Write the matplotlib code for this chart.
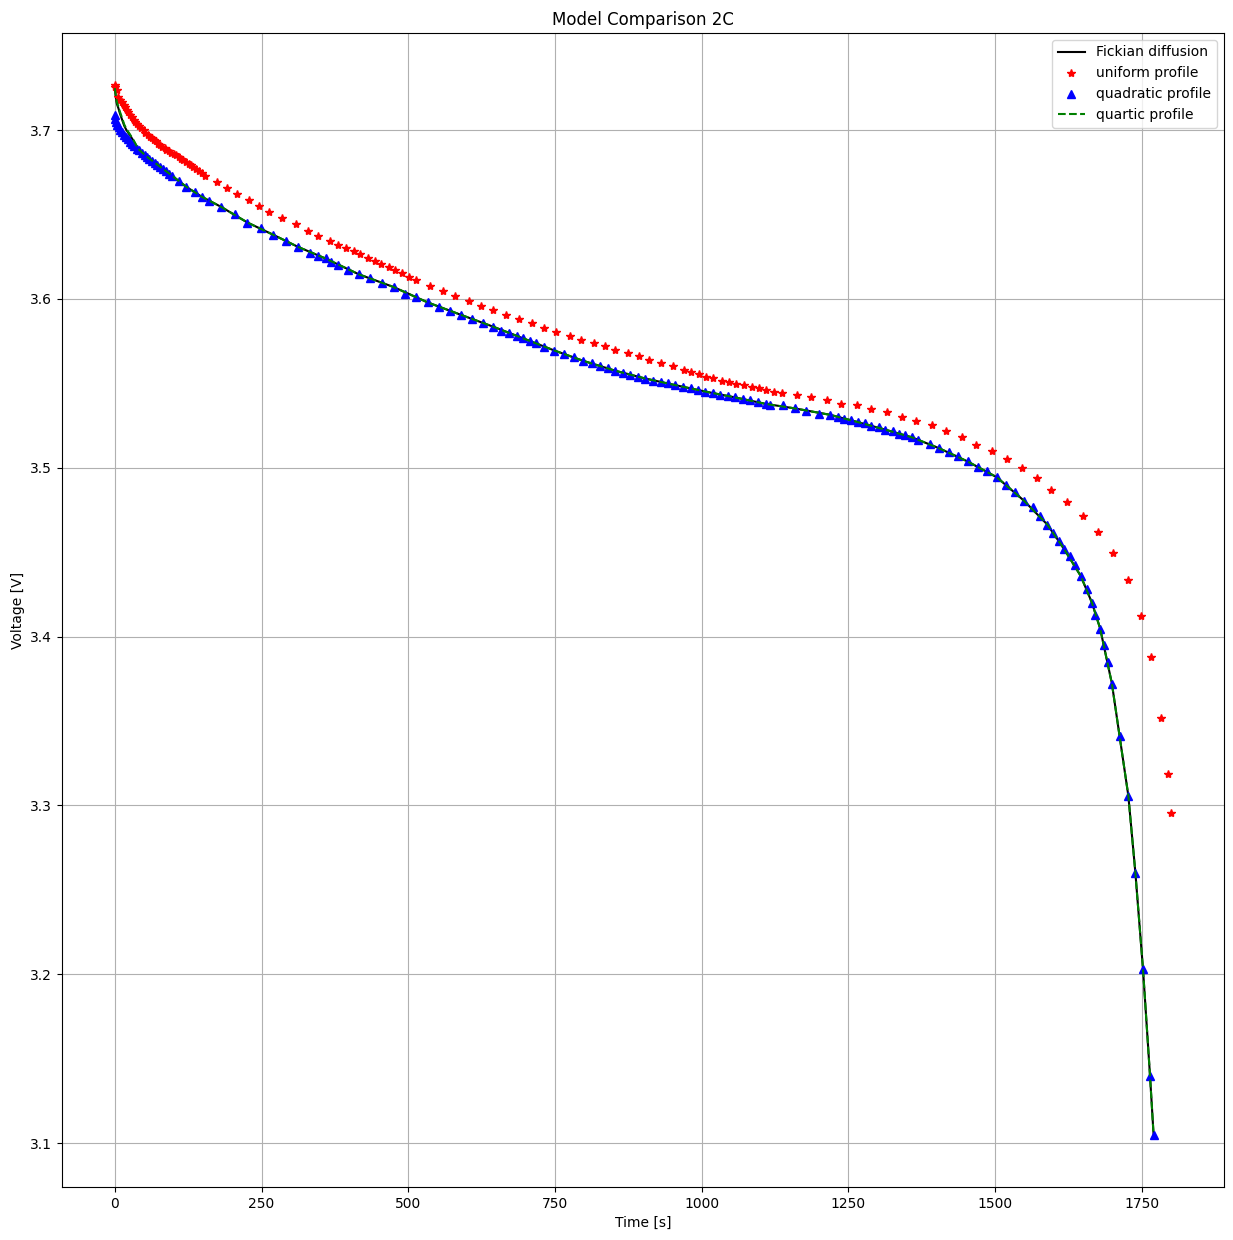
import numpy as np
import matplotlib
matplotlib.use("Agg")
import matplotlib.pyplot as plt

# uniform profile (red stars)
t_uni = [0, 1, 3, 6, 9, 12, 15, 17.6, 20, 23, 26, 29, 32, 35, 38, 41, 45, 49, 52, 56,
         60, 63, 67, 70, 74, 77, 81, 85, 88, 92, 96, 100, 105, 109, 113, 117, 121, 126,
         130, 134, 138, 143, 148, 154, 174, 191, 208, 228, 245, 263, 285, 308, 329, 347,
         367, 380, 394, 407, 418, 432, 443, 454, 467, 478, 489, 502, 513, 537, 559, 580,
         603, 624, 645, 667, 688, 710, 732, 752, 775, 795, 816, 835, 853, 874, 893, 911,
         931, 951, 969, 982, 995, 1008, 1020, 1034, 1046, 1059, 1072, 1085, 1097, 1110,
         1123, 1137, 1162, 1187, 1213, 1238, 1264, 1289, 1315, 1341, 1366, 1392, 1417,
         1443, 1468, 1494, 1520, 1545, 1571, 1596, 1622, 1649, 1675, 1701, 1727, 1748,
         1765, 1782, 1795, 1800]
v_uni = [3.7264, 3.7252, 3.7235, 3.7195, 3.7180, 3.7166, 3.7150, 3.7136, 3.7120, 3.7106,
         3.7090, 3.7077, 3.7060, 3.7047, 3.7035, 3.7022, 3.7010, 3.6998, 3.6985, 3.6972,
         3.6960, 3.6953, 3.6940, 3.6933, 3.6920, 3.6913, 3.6900, 3.6894, 3.6880, 3.6874,
         3.6866, 3.6860, 3.6850, 3.6840, 3.6830, 3.6820, 3.6810, 3.6800, 3.6790, 3.6781,
         3.6770, 3.6760, 3.6745, 3.6728, 3.6690, 3.6657, 3.6620, 3.6588, 3.6550, 3.6515,
         3.6480, 3.6444, 3.6400, 3.6373, 3.6342, 3.6318, 3.6300, 3.6283, 3.6263, 3.6240,
         3.6224, 3.6206, 3.6190, 3.6170, 3.6155, 3.6131, 3.6112, 3.6078, 3.6047, 3.6019,
         3.5989, 3.5960, 3.5934, 3.5905, 3.5881, 3.5859, 3.5828, 3.5806, 3.5780, 3.5757,
         3.5737, 3.5721, 3.5699, 3.5680, 3.5662, 3.5640, 3.5623, 3.5600, 3.5581, 3.5564,
         3.5554, 3.5540, 3.5530, 3.5516, 3.5506, 3.5494, 3.5487, 3.5477, 3.5471, 3.5459,
         3.5451, 3.5444, 3.5428, 3.5416, 3.5398, 3.5380, 3.5369, 3.5345, 3.5327, 3.5302,
         3.5274, 3.5250, 3.5215, 3.5179, 3.5136, 3.5097, 3.5050, 3.4998, 3.4939, 3.4870,
         3.4795, 3.4712, 3.4618, 3.4493, 3.4332, 3.4120, 3.3876, 3.3520, 3.3187, 3.2954]

# quadratic profile (blue triangles)
t_quad = [0, 0.5, 2, 4, 6.3, 9, 12, 15, 18.8, 22, 26, 30, 33.5, 37, 41.5, 46, 50.6, 54,
          58.5, 63, 67.7, 72, 77.3, 82, 87, 92, 97, 108.6, 121, 136, 148, 160, 181, 204,
          226, 249, 269.5, 292, 312, 333, 346, 359, 369, 380, 397, 416, 435, 456, 475,
          494, 513, 533, 553, 571, 590, 608, 627, 644, 658, 672, 685, 695, 707, 718, 731,
          749, 765, 782, 798, 813, 827, 841, 853, 866, 878, 891, 904, 917, 930, 943, 955,
          968, 981, 994, 1006, 1019, 1032, 1045, 1057, 1071, 1083, 1096, 1109, 1117, 1139,
          1159, 1178, 1200, 1219, 1232, 1242, 1254, 1266, 1278, 1289, 1302, 1313, 1326,
          1336, 1347, 1358, 1369, 1389, 1404, 1421, 1437, 1453, 1470, 1486, 1503, 1518,
          1534, 1549, 1564, 1577, 1589, 1599, 1609, 1617, 1628, 1636, 1646, 1657,
          1665, 1671, 1679, 1686, 1692, 1699, 1712, 1727, 1739, 1752, 1764, 1770]
v_quad = [3.7087, 3.7065, 3.7050, 3.7030, 3.7018, 3.7000, 3.6988, 3.6970, 3.6959, 3.6945,
          3.6929, 3.6915, 3.6905, 3.6890, 3.6880, 3.6866, 3.6854, 3.6842, 3.6830, 3.6818,
          3.6807, 3.6794, 3.6781, 3.6769, 3.6756, 3.6742, 3.6728, 3.6697, 3.6663, 3.6630,
          3.6604, 3.6580, 3.6545, 3.6500, 3.6452, 3.6417, 3.6381, 3.6342, 3.6308, 3.6269,
          3.6253, 3.6239, 3.6220, 3.6200, 3.6171, 3.6145, 3.6121, 3.6091, 3.6072, 3.6030,
          3.6013, 3.5979, 3.5954, 3.5928, 3.5905, 3.5881, 3.5859, 3.5836, 3.5812, 3.5796,
          3.5780, 3.5767, 3.5751, 3.5737, 3.5717, 3.5694, 3.5674, 3.5654, 3.5633, 3.5619,
          3.5603, 3.5589, 3.5574, 3.5560, 3.5550, 3.5538, 3.5528, 3.5516, 3.5506, 3.5499,
          3.5489, 3.5479, 3.5471, 3.5461, 3.5451, 3.5441, 3.5432, 3.5423, 3.5416, 3.5406,
          3.5398, 3.5388, 3.5378, 3.5373, 3.5370, 3.5351, 3.5337, 3.5320, 3.5313, 3.5298,
          3.5290, 3.5282, 3.5270, 3.5262, 3.5249, 3.5239, 3.5225, 3.5215, 3.5201, 3.5193,
          3.5180, 3.5166, 3.5140, 3.5116, 3.5093, 3.5067, 3.5037, 3.5006, 3.4978, 3.4943,
          3.4900, 3.4856, 3.4805, 3.4766, 3.4712, 3.4663, 3.4614, 3.4565, 3.4521, 3.4476,
          3.4423, 3.4358, 3.4280, 3.4200, 3.4125, 3.4047, 3.3952, 3.3847,
          3.3721, 3.3412, 3.3057, 3.2601, 3.2029, 3.1395, 3.1050]

# Fickian diffusion (black line)
t_fick = [0, 1, 2, 3.4, 6, 8.5, 12, 16, 20, 25.6, 32, 40, 48, 57, 74, 97, 121, 148, 181,
          226, 269, 312, 359, 416, 475, 533, 590, 644, 695, 749, 798, 853, 904, 955, 1006,
          1057, 1109, 1159, 1219, 1266, 1313, 1358, 1404, 1453, 1503, 1549, 1589, 1617,
          1646, 1665, 1679, 1699, 1712, 1727, 1739, 1752, 1764, 1770]
v_fick = [3.7250, 3.7215, 3.7185, 3.7155, 3.7130, 3.7100, 3.7065, 3.7025, 3.6998, 3.6970,
          3.6935, 3.6885, 3.6860, 3.6835, 3.6790, 3.6730, 3.6665, 3.6605, 3.6545, 3.6452,
          3.6381, 3.6308, 3.6239, 3.6145, 3.6070, 3.5979, 3.5905, 3.5836, 3.5767, 3.5694,
          3.5633, 3.5574, 3.5528, 3.5489, 3.5451, 3.5416, 3.5378, 3.5351, 3.5313, 3.5270,
          3.5225, 3.5180, 3.5116, 3.5037, 3.4943, 3.4805, 3.4663, 3.4521, 3.4358, 3.4200,
          3.4047, 3.3721, 3.3412, 3.3057, 3.2601, 3.2029, 3.1395, 3.1050]

# quartic profile (green dashed)
t_quart = [0, 1, 2, 3.4, 6, 8.5, 12, 16, 20, 25.6, 32, 40, 48, 57, 74, 97, 121, 148, 181,
           226, 269, 312, 359, 416, 475, 533, 590, 644, 695, 749, 798, 853, 904, 955, 1006,
           1057, 1109, 1159, 1219, 1266, 1313, 1358, 1404, 1453, 1503, 1549, 1589, 1617,
           1646, 1665, 1679, 1699, 1712, 1727, 1739, 1752, 1764, 1770]
v_quart = [3.7248, 3.7222, 3.7195, 3.7165, 3.7140, 3.7110, 3.7075, 3.7033, 3.7004, 3.6975,
           3.6939, 3.6888, 3.6862, 3.6836, 3.6791, 3.6731, 3.6666, 3.6605, 3.6545, 3.6452,
           3.6381, 3.6308, 3.6239, 3.6145, 3.6070, 3.5979, 3.5905, 3.5836, 3.5767, 3.5694,
           3.5633, 3.5574, 3.5528, 3.5489, 3.5451, 3.5416, 3.5378, 3.5351, 3.5313, 3.5270,
           3.5225, 3.5180, 3.5116, 3.5037, 3.4943, 3.4805, 3.4663, 3.4521, 3.4358, 3.4200,
           3.4047, 3.3721, 3.3412, 3.3057, 3.2601, 3.2029, 3.1395, 3.1050]

fig = plt.figure(figsize=(12.33, 12.4), dpi=100)
ax = fig.add_subplot(111)
fig.subplots_adjust(left=0.0503, right=0.9927, top=0.9734, bottom=0.0427)

ax.plot(t_fick, v_fick, color='black', label='Fickian diffusion')
ax.plot(t_uni, v_uni, 'r*', label='uniform profile')
ax.plot(t_quad, v_quad, 'b^', label='quadratic profile')
ax.plot(t_quart, v_quart, 'g--', label='quartic profile')

ax.set_title('Model Comparison 2C')
ax.set_xlabel('Time [s]')
ax.set_ylabel('Voltage [V]')
ax.grid(True)
ax.legend(loc='upper right')

fig.savefig('out.png', dpi=100)
